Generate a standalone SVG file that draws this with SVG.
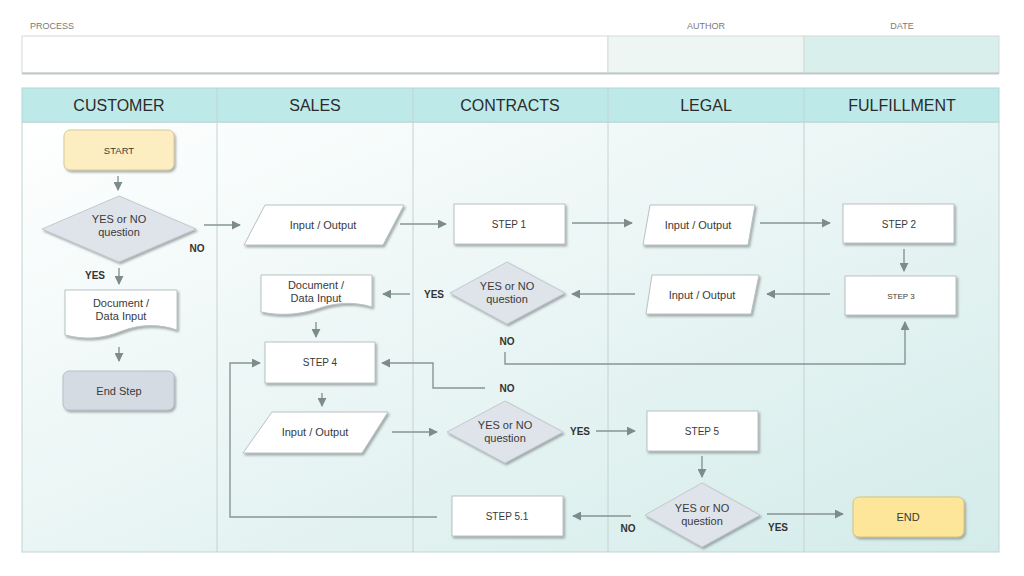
<svg xmlns="http://www.w3.org/2000/svg" width="1024" height="576" viewBox="0 0 1024 576">
<defs>
<linearGradient id="bg" x1="0" y1="0" x2="1" y2="1">
<stop offset="0" stop-color="#ffffff"/>
<stop offset="0.5" stop-color="#e9f5f4"/>
<stop offset="1" stop-color="#d3ecea"/>
</linearGradient>
<filter id="sh" x="-10%" y="-10%" width="130%" height="140%">
<feDropShadow dx="1.5" dy="2" stdDeviation="1" flood-color="#6f7878" flood-opacity="0.6"/>
</filter>
<marker id="ah" viewBox="0 0 10 10" refX="9" refY="5" markerWidth="9" markerHeight="9" markerUnits="userSpaceOnUse" orient="auto">
<path d="M0,0 L10,5 L0,10 Z" fill="#7d8b8b"/>
</marker>
</defs>
<style>
.lbl{font-family:"Liberation Sans",Arial,sans-serif;font-size:9px;fill:#7a7a7a;text-anchor:middle}
.lane{font-family:"Liberation Sans",Arial,sans-serif;font-size:16px;fill:#2b2b2b;text-anchor:middle}
.t{font-family:"Liberation Sans",Arial,sans-serif;font-size:11px;fill:#3a3a3a;text-anchor:middle}
.ts{font-family:"Liberation Sans",Arial,sans-serif;font-size:10px;fill:#3a3a3a;text-anchor:middle}
.b{font-family:"Liberation Sans",Arial,sans-serif;font-size:10px;font-weight:bold;fill:#333;text-anchor:middle}
.box{fill:#ffffff;stroke:#b9c2c2;stroke-width:1;filter:url(#sh)}
.dia{fill:#dfe3ea;stroke:#c3c8d0;stroke-width:1;filter:url(#sh)}
.c{fill:none;stroke:#869595;stroke-width:1.4;marker-end:url(#ah)}
.sep{stroke:#c4d2d2;stroke-width:1}
</style>
<rect width="1024" height="576" fill="#ffffff"/>
<g id="header">
<text class="lbl" x="52" y="29">PROCESS</text>
<text class="lbl" x="706" y="29">AUTHOR</text>
<text class="lbl" x="902" y="29">DATE</text>
<rect x="22" y="36" width="586" height="37" fill="#ffffff" stroke="#d4dada"/>
<rect x="608" y="36" width="196" height="37" fill="#eef6f3" stroke="#d4dada"/>
<rect x="804" y="36" width="195" height="37" fill="#d9efeb" stroke="#d4dada"/>
<line x1="22" y1="73.5" x2="999" y2="73.5" stroke="#c2c8c8" stroke-width="2"/>
</g>
<g id="lanes">
<rect x="22" y="122" width="977" height="430" fill="url(#bg)" stroke="#c4d2d2"/>
<rect x="22" y="88" width="977" height="34" fill="#bdeae8" stroke="#b3d6d6"/>
<line class="sep" x1="217" y1="88" x2="217" y2="552"/>
<line class="sep" x1="413" y1="88" x2="413" y2="552"/>
<line class="sep" x1="608" y1="88" x2="608" y2="552"/>
<line class="sep" x1="804" y1="88" x2="804" y2="552"/>
<text class="lane" x="119" y="111">CUSTOMER</text>
<text class="lane" x="315" y="111">SALES</text>
<text class="lane" x="510" y="111">CONTRACTS</text>
<text class="lane" x="706" y="111">LEGAL</text>
<text class="lane" x="902" y="111">FULFILLMENT</text>
</g>
<g id="connectors">
<path class="c" d="M118,176 V190"/>
<path class="c" d="M204,225 H240"/>
<path class="c" d="M400,224 H446"/>
<path class="c" d="M572,223 H632"/>
<path class="c" d="M760,223 H830"/>
<path class="c" d="M904,249 V271"/>
<path class="c" d="M830,294 H767"/>
<path class="c" d="M635,294 H572"/>
<path class="c" d="M410,294 H383"/>
<path class="c" d="M316,322 V337"/>
<path class="c" d="M119,268 V284"/>
<path class="c" d="M119,347 V361"/>
<path class="c" d="M505,352 V364 H905 V322"/>
<path class="c" d="M485,388 H433 V363 H382"/>
<path class="c" d="M322,393 V406"/>
<path class="c" d="M392,432 H437"/>
<path class="c" d="M596,431 H635"/>
<path class="c" d="M702,456 V477"/>
<path class="c" d="M767,514 H843"/>
<path class="c" d="M631,516 H573"/>
<path class="c" d="M437,517 H230 V363 H260"/>
</g>
<g id="start"><rect x="64" y="130" width="110" height="40" rx="6" fill="#fdeec2" stroke="#d8c99c" filter="url(#sh)"/><text class="ts" x="119" y="154" style="font-size:9.5px">START</text></g>
<g id="q1"><polygon class="dia" points="42,229 119,196 196,229 119,262"/><text class="t" x="119" y="223">YES or NO</text><text class="t" x="119" y="236">question</text></g>
<text class="b" x="197" y="252">NO</text>
<text class="b" x="95" y="279">YES</text>
<g id="doc1"><path class="box" d="M65,290 H177 V330 C160,324 140,324 122,331 C102,339 85,340 65,335 Z"/><text class="t" x="121" y="307">Document /</text><text class="t" x="121" y="320">Data Input</text></g>
<g id="endstep"><rect x="63" y="371" width="111" height="39" rx="6" fill="#d5dbe3" stroke="#b9c0ca" filter="url(#sh)"/><text class="t" x="119" y="395">End Step</text></g>
<g id="io1"><polygon class="box" points="265,205 404,205 383,245 244,245"/><text class="t" x="323" y="229">Input / Output</text></g>
<g id="step1"><rect class="box" x="454" y="204" width="111" height="40"/><text class="ts" x="509" y="228">STEP 1</text></g>
<g id="io2"><polygon class="box" points="650,205 755,205 748,245 643,245"/><text class="t" x="698" y="229">Input / Output</text></g>
<g id="step2"><rect class="box" x="843" y="204" width="111" height="39"/><text class="ts" x="899" y="228">STEP 2</text></g>
<g id="step3"><rect class="box" x="845" y="276" width="111" height="39"/><text class="ts" x="901" y="299" style="font-size:8px">STEP 3</text></g>
<g id="io3"><polygon class="box" points="652,275 759,275 751,314 646,314"/><text class="t" x="702" y="299">Input / Output</text></g>
<g id="q2"><polygon class="dia" points="450,293 507,262 565,293 507,324"/><text class="t" x="507" y="290">YES or NO</text><text class="t" x="507" y="303">question</text></g>
<text class="b" x="434" y="298">YES</text>
<text class="b" x="507" y="345">NO</text>
<g id="doc2"><path class="box" d="M261,275 H372 V307 C356,302 338,302 320,308 C300,315 280,316 261,312 Z"/><text class="t" x="316" y="289">Document /</text><text class="t" x="316" y="302">Data Input</text></g>
<g id="step4"><rect class="box" x="265" y="342" width="110" height="41"/><text class="ts" x="320" y="366">STEP 4</text></g>
<text class="b" x="507" y="392">NO</text>
<g id="io4"><polygon class="box" points="272,412 388,412 362,453 243,453"/><text class="t" x="315" y="436">Input / Output</text></g>
<g id="q3"><polygon class="dia" points="447,432 505,401 563,432 505,463"/><text class="t" x="505" y="429">YES or NO</text><text class="t" x="505" y="442">question</text></g>
<text class="b" x="580" y="435">YES</text>
<g id="step5"><rect class="box" x="647" y="411" width="111" height="40"/><text class="ts" x="702" y="435">STEP 5</text></g>
<g id="q4"><polygon class="dia" points="645,515 702,483 760,515 702,547"/><text class="t" x="702" y="512">YES or NO</text><text class="t" x="702" y="525">question</text></g>
<text class="b" x="778" y="531">YES</text>
<text class="b" x="628" y="532">NO</text>
<g id="step51"><rect class="box" x="452" y="496" width="111" height="40"/><text class="ts" x="507" y="520">STEP 5.1</text></g>
<g id="end"><rect x="853" y="497" width="111" height="40" rx="6" fill="#fde59a" stroke="#d9c27a" filter="url(#sh)"/><text class="t" x="908" y="521">END</text></g>
</svg>
